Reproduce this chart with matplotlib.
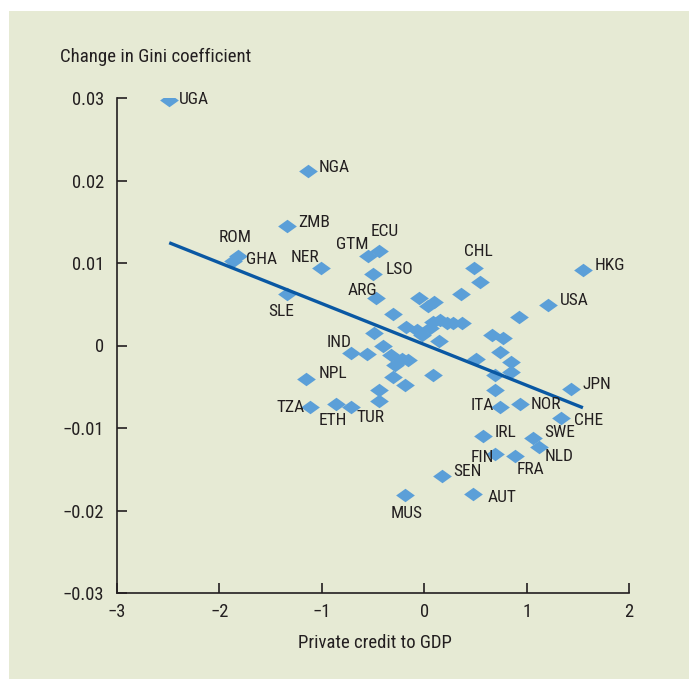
"""
Change in Gini coefficient vs private credit to GDP — scatter with country labels and fitted line.
"""
import matplotlib
matplotlib.use("Agg")
import matplotlib.pyplot as plt
from matplotlib.patches import Rectangle
from matplotlib.path import Path
from matplotlib.ticker import FuncFormatter

plt.rcParams["font.family"] = ["Roboto Condensed", "DejaVu Sans"]

# ─── data ─────────────────────────────────────────────────────────────────────

labelled_codes = ["UGA", "NGA", "ZMB", "ROM", "GHA", "NER", "GTM", "ECU", "LSO", "ARG",
                  "SLE", "IND", "NPL", "TZA", "ETH", "TUR", "MUS", "SEN", "AUT", "FIN",
                  "IRL", "FRA", "NLD", "SWE", "CHE", "JPN", "NOR", "ITA", "HKG", "USA",
                  "CHL"]
labelled_x = [-2.49, -1.135, -1.34, -1.82, -1.87, -1.01, -0.55, -0.445, -0.50, -0.47,
              -1.34, -0.71, -1.15, -1.12, -0.86, -0.71, -0.19, 0.17, 0.48, 0.69,
              0.57, 0.89, 1.12, 1.06, 1.34, 1.43, 0.94, 0.74, 1.55, 1.21,
              0.49]
labelled_y = [0.0298, 0.0212, 0.0145, 0.0108, 0.0102, 0.0094, 0.0108, 0.0114, 0.0087, 0.0057,
              0.0063, -0.0009, -0.0040, -0.0075, -0.0071, -0.0074, -0.0181, -0.0158, -0.0180, -0.0131,
              -0.0110, -0.0134, -0.0123, -0.0112, -0.0088, -0.0053, -0.0071, -0.0075, 0.0092, 0.0049,
              0.0094]

other_x = [-0.56, -0.44, -0.44, 0.545, 0.36, 0.93, -0.05, 0.10, 0.04, -0.30,
           -0.18, -0.07, -0.025, 0.09, 0.15, 0.22, 0.28, 0.37, 0.06, 0.14,
           -0.49, -0.40, -0.32, -0.22, -0.155, -0.285, -0.30, -0.19, 0.09, 0.66,
           0.77, 0.74, 0.51, 0.85, 0.85, 0.69, 0.69]
other_y = [-0.0010, -0.0054, -0.0067, 0.0077, 0.0062, 0.0035, 0.0058, 0.0053, 0.0048, 0.0038,
           0.0023, 0.0019, 0.0013, 0.0029, 0.0031, 0.0027, 0.0027, 0.0027, 0.0021, 0.0005,
           0.0015, 0.0000, -0.0012, -0.0016, -0.0018, -0.0024, -0.0038, -0.0048, -0.0036, 0.0013,
           0.0009, -0.0008, -0.0016, -0.0020, -0.0032, -0.0036, -0.0054]

fit_intercept = 0.00013
fit_slope = -0.00495

x_ticks = [-3, -2, -1, 0, 1, 2]
y_ticks = [-0.03, -0.02, -0.01, 0.0, 0.01, 0.02, 0.03]

# ─── layout / style ───────────────────────────────────────────────────────────

BG = "#e6ead4"
DOT = "#5b9fd8"
LINE = "#0a58a3"
INK = "#231f20"

# label offsets in pixels (dx, dy, ha)
label_pos = {
    "UGA": (10, 0, "left"), "NGA": (11, 3, "left"), "ZMB": (11, 3, "left"),
    "ROM": (-3, 19, "center"), "GHA": (13, 2, "left"), "NER": (-2, 10, "right"),
    "GTM": (1, 12, "right"), "ECU": (6, 20, "center"), "LSO": (13, 4, "left"),
    "ARG": (1, 8, "right"), "SLE": (-6, -18, "center"), "IND": (0, 10, "right"),
    "NPL": (12, 5, "left"), "TZA": (-5, 0, "right"), "ETH": (-3, -16, "center"),
    "TUR": (5, -11, "left"), "MUS": (2, -19, "center"), "SEN": (12, 4, "left"),
    "AUT": (14, -3, "left"), "FIN": (-1, -4, "right"), "IRL": (12, 4, "left"),
    "FRA": (1, -13, "left"), "NLD": (6, -10, "left"), "SWE": (12, 5, "left"),
    "CHE": (13, -2, "left"), "JPN": (12, 5, "left"), "NOR": (10, 0, "left"),
    "ITA": (-6, 2, "right"), "HKG": (12, 4, "left"), "USA": (12, 5, "left"),
    "CHL": (4, 16, "center"),
}

# flattened diamond, wider than tall
diamond = Path([(-1, 0), (0, 0.72), (1, 0), (0, -0.72), (-1, 0)],
               [Path.MOVETO, Path.LINETO, Path.LINETO, Path.LINETO, Path.CLOSEPOLY])

fig = plt.figure(figsize=(6.89, 6.79), dpi=100)
fig.patch.set_facecolor("white")
fig.add_artist(Rectangle((9 / 689, 0), 1, 668 / 679, transform=fig.transFigure,
                         facecolor=BG, edgecolor="none", zorder=-10))

ax = fig.add_axes([117 / 689, 86 / 679, 512 / 689, 495 / 679])
ax.set_facecolor("none")

ax.scatter(other_x, other_y, marker=diamond, s=13.5 ** 2, color=DOT, lw=0, zorder=3)
ax.scatter(labelled_x, labelled_y, marker=diamond, s=13.5 ** 2, color=DOT, lw=0, zorder=3)

x0, x1 = min(labelled_x), max(labelled_x)
ax.plot([x0, x1], [fit_intercept + fit_slope * x0, fit_intercept + fit_slope * x1],
        color=LINE, lw=2.4, solid_capstyle="butt", zorder=4)

for code, x, y in zip(labelled_codes, labelled_x, labelled_y):
    dx, dy, ha = label_pos[code]
    ax.annotate(code, (x, y), xytext=(dx, dy), textcoords="offset pixels",
                ha=ha, va="center", fontsize=12.5, color=INK, zorder=5)

ax.set_xlim(-3, 2)
ax.set_ylim(-0.03, 0.03)
ax.set_xticks(x_ticks)
ax.set_yticks(y_ticks)
ax.yaxis.set_major_formatter(FuncFormatter(
    lambda v, _: "0" if abs(v) < 1e-9 else f"{v:.2f}".replace("-", "\u2212")))
ax.xaxis.set_major_formatter(FuncFormatter(
    lambda v, _: f"{v:.0f}".replace("-", "\u2212")))

for side in ("top", "right"):
    ax.spines[side].set_visible(False)
for side in ("left", "bottom"):
    ax.spines[side].set_linewidth(1.2)
    ax.spines[side].set_color(INK)
ax.tick_params(direction="in", length=7, width=1.2, color=INK,
               labelsize=13.3, labelcolor=INK)
ax.tick_params(axis="y", pad=9)
ax.tick_params(axis="x", pad=7)

fig.text(60 / 689, 1 - 57 / 679, "Change in Gini coefficient", fontsize=13.6,
         color=INK, ha="left", va="center")
fig.text(375 / 689, 1 - 643 / 679, "Private credit to GDP", fontsize=13.5,
         color=INK, ha="center", va="center")

fig.savefig("out.png", dpi=100, facecolor=fig.get_facecolor())
